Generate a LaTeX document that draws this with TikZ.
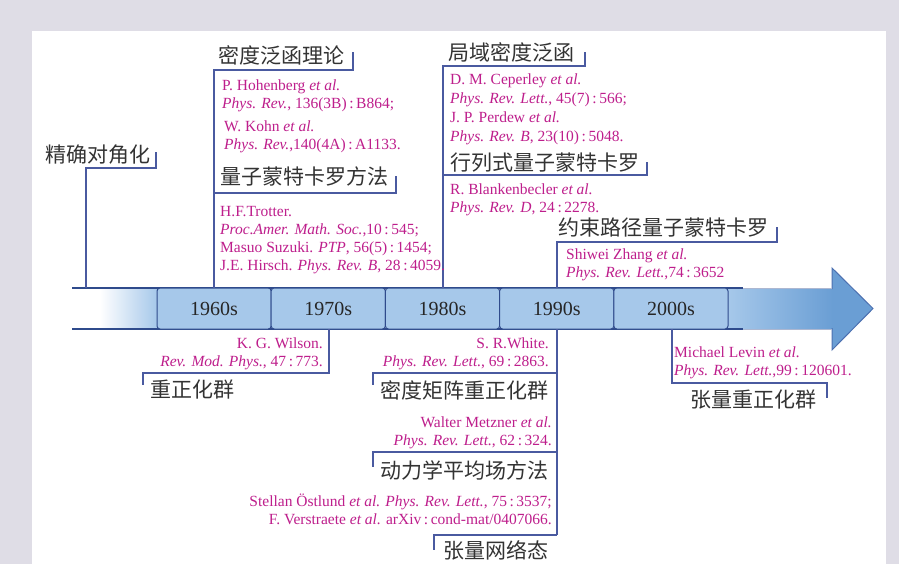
\documentclass[tikz,border=0pt]{standalone}
\usepackage{fontspec}
\setmainfont{Liberation Serif}
\newfontfamily\cjk{Noto Sans CJK SC}
\definecolor{bggray}{HTML}{DFDDE6}
\definecolor{refc}{HTML}{BE1E8C}
\definecolor{linec}{HTML}{4A5AA0}
\definecolor{segfill}{HTML}{A6C8EA}
\definecolor{segdraw}{HTML}{2F4B8C}
\definecolor{headblue}{HTML}{6A9ED4}
\definecolor{headdraw}{HTML}{4C70B0}
\definecolor{cjkc}{HTML}{333333}
\tikzset{
  reftext/.style={font=\fontsize{15.5}{18}\selectfont, text=refc, inner sep=0pt, align=left, anchor=north west},
  refright/.style={font=\fontsize{15.5}{18}\selectfont, text=refc, inner sep=0pt, align=right, anchor=north east},
  heading/.style={font=\cjk\fontsize{21}{24}\selectfont, text=cjkc, inner sep=0pt, anchor=west},
  conn/.style={draw=linec, line width=1.1pt, line join=miter},
  yearlabel/.style={font=\fontsize{20}{24}\selectfont, text=black!85, inner sep=0pt},
  segbox/.style={fill=segfill, draw=segdraw, line width=1pt, rounded corners=3pt},
}
\begin{document}
\begin{tikzpicture}[x=1pt,y=-1pt]
\useasboundingbox (0,0) rectangle (899,564);
% background
\fill[bggray] (0,0) rectangle (899,564);
\fill[white] (32,31) rectangle (886,564);

% ---------- timeline bar ----------
\shade[left color=white, right color=segfill] (100,288) rectangle (157,329);
\shade[left color=segfill, right color=headblue] (728,288) rectangle (833,329);
\fill[headblue] (832,268) -- (873,308.5) -- (832,350) -- cycle;
\draw[headdraw, line width=1pt, line join=miter] (832,289) -- (832,268) -- (873,308.5) -- (832,350) -- (832,328);
\draw[segdraw!40, line width=0.6pt] (743,288) -- (832,288) (743,329) -- (832,329);
\draw[segdraw, line width=1.1pt] (72,288) -- (743,288) (72,329) -- (743,329);
\foreach \i in {0,...,4}{
  \pgfmathsetmacro{\xa}{157+114.2*\i}
  \pgfmathsetmacro{\xb}{157+114.2*(\i+1)}
  \draw[segbox] (\xa,288) rectangle (\xb,329);
}
\node[yearlabel] (y1960) at (214.1,309) {1960s};
\node[yearlabel] (y1970) at (328.3,309) {1970s};
\node[yearlabel] (y1980) at (442.5,309) {1980s};
\node[yearlabel] (y1990) at (556.7,309) {1990s};
\node[yearlabel] (y2000) at (670.9,309) {2000s};

% ---------- connectors ----------
\coordinate (a1) at (86,288);  \coordinate (a2) at (86,168);  \coordinate (a3) at (156,168); \coordinate (a4) at (156,152);
\draw[conn] (a1) -- (a2) -- (a3) -- (a4);
\coordinate (b1) at (214,288); \coordinate (b2) at (214,70);  \coordinate (b3) at (353,70);  \coordinate (b4) at (353,52);
\draw[conn] (b1) -- (b2) -- (b3) -- (b4);
\coordinate (c1) at (214,193); \coordinate (c2) at (396,193); \coordinate (c3) at (396,176);
\draw[conn] (c1) -- (c2) -- (c3);
\coordinate (d1) at (443,288); \coordinate (d2) at (443,66);  \coordinate (d3) at (585,66);  \coordinate (d4) at (585,52);
\draw[conn] (d1) -- (d2) -- (d3) -- (d4);
\coordinate (e1) at (443,175); \coordinate (e2) at (647,175); \coordinate (e3) at (647,162);
\draw[conn] (e1) -- (e2) -- (e3);
\coordinate (f1) at (557,288); \coordinate (f2) at (557,242); \coordinate (f3) at (777,242); \coordinate (f4) at (777,227);
\draw[conn] (f1) -- (f2) -- (f3) -- (f4);
% bottom
\coordinate (g1) at (329,329); \coordinate (g2) at (329,373); \coordinate (g3) at (143,373); \coordinate (g4) at (143,385);
\draw[conn] (g1) -- (g2) -- (g3) -- (g4);
\coordinate (h1) at (557,329); \coordinate (h2) at (557,535);
\draw[conn] (h1) -- (h2);
\coordinate (h3) at (557,373); \coordinate (h4) at (373,373); \coordinate (h5) at (373,385);
\draw[conn] (h3) -- (h4) -- (h5);
\coordinate (i1) at (557,452); \coordinate (i2) at (373,452); \coordinate (i3) at (373,467);
\draw[conn] (i1) -- (i2) -- (i3);
\coordinate (j2) at (434,535); \coordinate (j3) at (434,550);
\draw[conn] (h2) -- (j2) -- (j3);
\coordinate (k1) at (672,329); \coordinate (k2) at (672,383); \coordinate (k3) at (827,383); \coordinate (k4) at (827,398);
\draw[conn] (k1) -- (k2) -- (k3) -- (k4);

% ---------- headings ----------
\node[heading] (hED)   at (45,155)  {精确对角化};
\node[heading] (hDFT)  at (218,55)  {密度泛函理论};
\node[heading] (hQMC)  at (220,176) {量子蒙特卡罗方法};
\node[heading] (hLDA)  at (448,52)  {局域密度泛函};
\node[heading] (hDQMC) at (450,163) {行列式量子蒙特卡罗};
\node[heading] (hCP)   at (558,228) {约束路径量子蒙特卡罗};
\node[heading] (hRG)   at (150,390) {重正化群};
\node[heading] (hDMRG) at (380,390) {密度矩阵重正化群};
\node[heading] (hDMFT) at (380,470) {动力学平均场方法};
\node[heading] (hTNS)  at (443,550) {张量网络态};
\node[heading] (hTRG)  at (690,400) {张量重正化群};

% ---------- references ----------
\node[reftext] (rHoh) at (222,80) {P. Hohenberg \textit{et al.}\\\textit{Phys. Rev.}, 136(3B)\,:\,B864;};
\node[reftext] (rKohn) at (224,121) {W. Kohn \textit{et al.}\\\textit{Phys. Rev.},140(4A)\,:\,A1133.};
\node[reftext] (rTrot) at (220,206) {H.F.Trotter.\\\textit{Proc.Amer. Math. Soc.},10\,:\,545;\\Masuo Suzuki. \textit{PTP}, 56(5)\,:\,1454;\\J.E. Hirsch. \textit{Phys. Rev. B}, 28\,:\,4059.};
\node[reftext, font=\fontsize{15.5}{18.7}\selectfont] (rCep) at (450,74) {D. M. Ceperley \textit{et al.}\\\textit{Phys. Rev. Lett.}, 45(7)\,:\,566;\\J. P. Perdew \textit{et al.}\\\textit{Phys. Rev. B}, 23(10)\,:\,5048.};
\node[reftext] (rBla) at (450,184) {R. Blankenbecler \textit{et al.}\\\textit{Phys. Rev. D}, 24\,:\,2278.};
\node[reftext] (rZha) at (566,249) {Shiwei Zhang \textit{et al.}\\\textit{Phys. Rev. Lett.},74\,:\,3652};
\node[refright] (rWil) at (323,338) {K. G. Wilson.\\\textit{Rev. Mod. Phys.}, 47\,:\,773.};
\node[refright] (rWhi) at (549,338) {S. R.White.\\\textit{Phys. Rev. Lett.}, 69\,:\,2863.};
\node[refright] (rMet) at (552,417) {Walter Metzner \textit{et al.}\\\textit{Phys. Rev. Lett.}, 62\,:\,324.};
\node[refright] (rOst) at (552,494) {Stellan Östlund \textit{et al. Phys. Rev. Lett.}, 75\,:\,3537;\\F. Verstraete \textit{et al.} arXiv\,:\,cond-mat/0407066.};
\node[reftext] (rLev) at (674,347) {Michael Levin \textit{et al.}\\\textit{Phys. Rev. Lett.},99\,:\,120601.};
\end{tikzpicture}
\end{document}
